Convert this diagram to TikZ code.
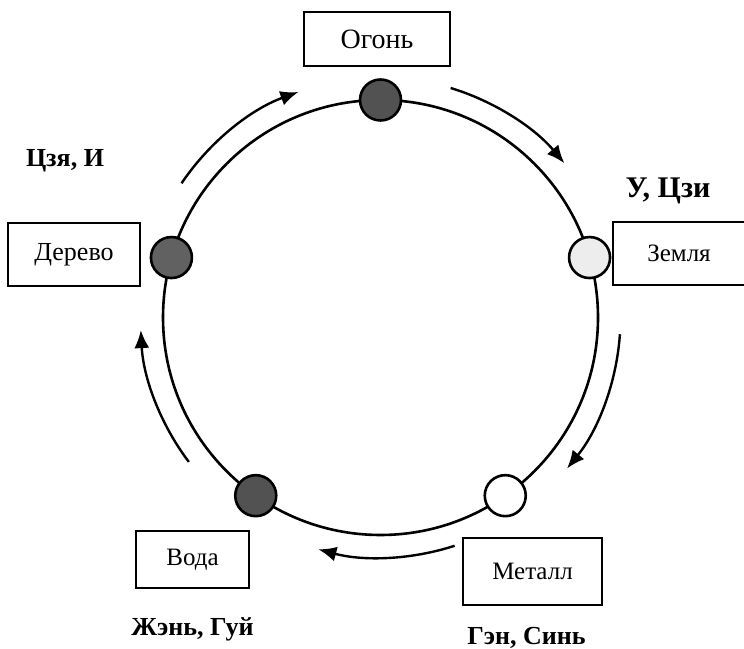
\documentclass[tikz,border=0pt]{standalone}
\usepackage{fontspec}
\setmainfont{Liberation Serif}
\usetikzlibrary{arrows.meta,calc}
\tikzset{
  elembox/.style={draw, line width=1pt, inner sep=0pt, font=\fontsize{12.5}{14}\selectfont},
  ball/.style={circle, draw, line width=1.3pt, minimum size=20.5pt, inner sep=0pt, fill=#1},
  flow/.style={line width=1.2pt, -{Latex[length=9pt,width=7.5pt]}},
  tag/.style={anchor=base, inner sep=0pt, font=\fontsize{13}{15}\selectfont\bfseries}
}
\begin{document}
\begin{tikzpicture}[x=0.5pt, y=0.5pt]
\useasboundingbox (0,0) rectangle (744,648);

% Define the centre of the cycle
\coordinate (C) at (380.5,330.5);

% Draw the cycle
\draw[line width=1.3pt] (C) circle (217.5);

% Draw the five elements on the cycle
\node[ball=black!68] (fire)  at ($(C)+(90:217.5)$) {};
\node[ball=black!62] (wood)  at ($(C)+(164:217.5)$) {};
\node[ball=black!7]  (earth) at ($(C)+(16:217.5)$) {};
\node[ball=black!68] (water) at ($(C)+(235:217.5)$) {};
\node[ball=white]    (metal) at ($(C)+(305:217.5)$) {};

% Draw the arrows of the cycle
\foreach \s/\e [count=\i] in {146/110, 73/40, -4/-39, -72/-105, 217/183}
  \draw[flow] ($(C)+(\s:240)$) coordinate (arc\i) arc[start angle=\s, end angle=\e, radius=240];

% Name the elements
\node[elembox, minimum width=73pt, minimum height=27pt, font=\fontsize{14}{16}\selectfont] (fireBox) at (377,609) {Огонь};
\node[elembox, minimum width=66pt, minimum height=31.5pt, font=\fontsize{13}{15}\selectfont] (woodBox) at (74,393.5) {Дерево};
\node[elembox, minimum width=66pt, minimum height=31.5pt] (earthBox) at (679,394.5) {Земля};
\node[elembox, minimum width=56.5pt, minimum height=28.5pt] (waterBox) at (192.5,88.5) {Вода};
\node[elembox, minimum width=69.5pt, minimum height=33.5pt] (metalBox) at (532.5,76.5) {Металл};

% Stems of the elements
\node[tag] (woodTag) at (65,481) {Цзя, И};
\node[tag, font=\fontsize{15}{17}\selectfont\bfseries] (earthTag) at (668,450) {У, Цзи};
\node[tag] (waterTag) at (192.5,13) {Жэнь, Гуй};
\node[tag] (metalTag) at (526.5,4) {Гэн, Синь};
\end{tikzpicture}
\end{document}
